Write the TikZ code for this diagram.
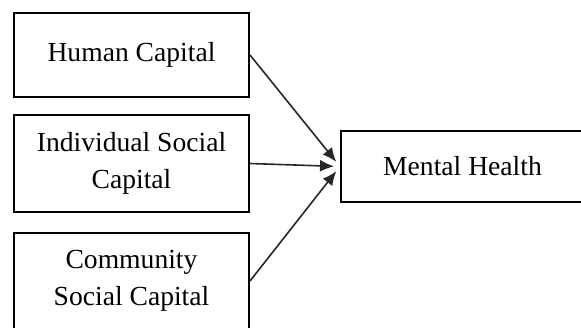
\documentclass[tikz,border=0pt]{standalone}
\usepackage{fontspec}
\setmainfont{Liberation Serif}
\usetikzlibrary{arrows.meta, positioning}

\tikzset{
  capbox/.style={draw, line width=1pt, minimum width=117.5pt, align=center,
    font=\fontsize{13.8}{18.5}\selectfont, inner sep=0pt},
  flow/.style={-{Latex[length=7pt,width=6pt]}, line width=0.8pt, draw=black!85, shorten >=3pt}
}

\begin{document}
\begin{tikzpicture}[x=0.5pt, y=-0.5pt]

        % Khung hình
        \useasboundingbox (0,0) rectangle (581,327);
        \clip (0,0) rectangle (581,327);

        % Các hộp bên trái
        \node[capbox, minimum height=42pt] (hc) at (131.5,55) {Human Capital}; % Human
        \node[capbox, minimum height=48.5pt] (isc) at (131.5,163.5) {Individual Social\\Capital}; % Individual
        \node[capbox, minimum height=48pt] (csc) at (131.5,281) {Community\\Social Capital}; % Community

        % Hộp bên phải
        \node[capbox, minimum width=121.5pt, minimum height=35.5pt] (mh) at (462.5,166.5) {Mental Health};

        % Mũi tên
        \draw[flow] (hc.east) -- (mh.west);
        \draw[flow] (isc.east) -- (mh.west);
        \draw[flow] (csc.east) -- (mh.west);

\end{tikzpicture}
\end{document}
